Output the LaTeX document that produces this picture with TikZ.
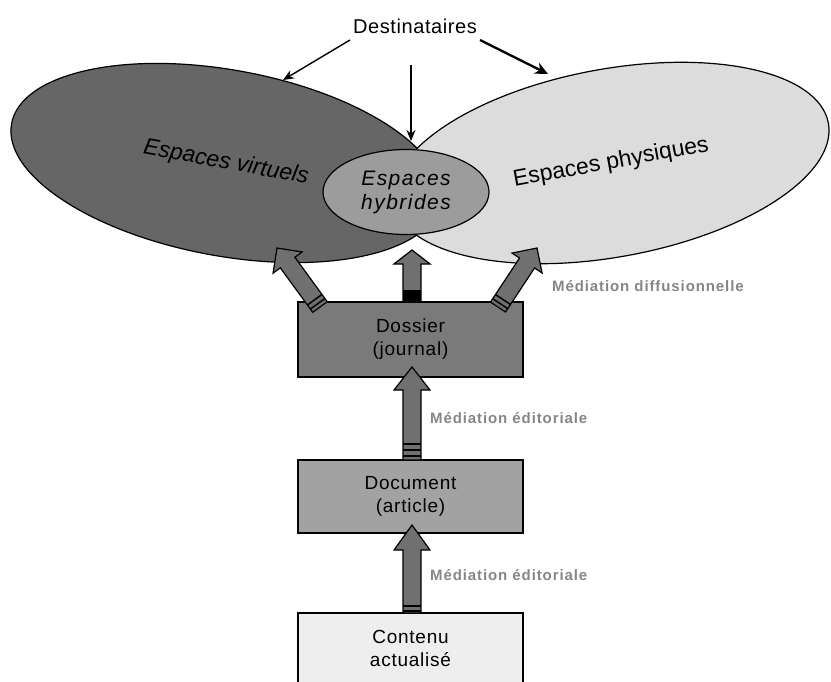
\documentclass[tikz,border=0pt]{standalone}
\usepackage{fontspec}
\setmainfont{Liberation Sans}
\newfontfamily\spacedA[LetterSpace=3]{Liberation Sans}
\newfontfamily\spacedB[LetterSpace=4]{Liberation Sans}
\newfontfamily\spacedC[LetterSpace=7]{Liberation Sans}
\newfontfamily\spacedD[LetterSpace=6]{Liberation Sans}
\usetikzlibrary{shapes.geometric,calc,arrows.meta}

\definecolor{virtgray}{HTML}{666666}
\definecolor{physgray}{HTML}{DCDCDC}
\definecolor{hybgray}{HTML}{9C9C9C}
\definecolor{dossgray}{HTML}{7A7A7A}
\definecolor{docgray}{HTML}{A2A2A2}
\definecolor{contgray}{HTML}{EEEEEE}
\definecolor{arrgray}{HTML}{707070}
\definecolor{lblgray}{HTML}{868686}

\tikzset{
  zone/.style={ellipse, draw=black, line width=1.2pt, inner sep=0pt},
  boxnode/.style={draw=black, line width=1.2pt, minimum width=225pt,
    align=center, inner sep=0pt, font={\spacedB\fontsize{19}{23}\selectfont}},
  mediation/.style={anchor=west, text=lblgray, inner sep=0pt,
    font={\spacedD\bfseries\fontsize{15}{18}\selectfont}},
  bigarrow/.style={draw=black, fill=arrgray, line width=1.2pt, line join=miter},
  pointer/.style={draw=black, line width=1.4pt, -{Stealth[length=11pt,width=9pt]}},
  heavypointer/.style={draw=black, line width=2.4pt, -{Stealth[length=13pt,width=12pt]}},
}

% wide outlined arrow from a tail point to a tip point
\newcommand{\widearrow}[3]{%
  \coordinate (wa-neck) at ($(#2)!#3!(#1)$);
  \draw[bigarrow]
    ($(#1)!9pt!90:(#2)$) -- ($(wa-neck)!9pt!90:(#2)$) --
    ($(wa-neck)!18pt!90:(#2)$) -- (#2) --
    ($(wa-neck)!18pt!-90:(#2)$) -- ($(wa-neck)!9pt!-90:(#2)$) --
    ($(#1)!9pt!-90:(#2)$) -- cycle;
}
% dark bands across an arrow shaft near its tail
\newcommand{\tailbands}[3]{%
  \foreach \bd in {#3}{%
    \coordinate (tb) at ($(#1)!\bd!(#2)$);
    \draw[line width=1.5pt] ($(tb)!9pt!90:(#2)$) -- ($(tb)!9pt!-90:(#2)$);
  }%
}

\begin{document}
\begin{tikzpicture}[x=1pt,y=-1pt]
\useasboundingbox (0,0) rectangle (831,681);
\clip (0,0) rectangle (831,681);

% the three spaces
\node[zone, fill=virtgray, minimum width=436pt, minimum height=186pt,
  rotate=-10.4, font={\itshape\fontsize{23}{27}\selectfont}]
  (virt) at (226,163) {Espaces virtuels};
\node[zone, fill=physgray, minimum width=442pt, minimum height=188pt,
  rotate=10.4, font={\fontsize{23}{27}\selectfont}]
  (phys) at (611,163) {Espaces physiques};
\node[zone, fill=hybgray, minimum width=166pt, minimum height=85pt,
  align=center, font={\spacedC\itshape\fontsize{21}{24}\selectfont}]
  (hyb) at (406,192) {Espaces\\hybrides};

% recipients
\node[inner sep=0pt, font={\spacedA\fontsize{20}{24}\selectfont}]
  (dest) at (415,26) {Destinataires};
\coordinate (destL) at (350,40);
\coordinate (destR) at (480,40);
\coordinate (destM) at (411,65);
\coordinate (toVirt) at (283,80);
\coordinate (toPhys) at (548,74);
\coordinate (toHyb) at (411,141);
\draw[pointer] (destL) -- (toVirt);
\draw[heavypointer] (destR) -- (toPhys);
\draw[pointer, line width=1.3pt] (destM) -- (toHyb);

% editorial chain
\node[boxnode, fill=dossgray, minimum height=75pt] (doss) at (410.5,339.5) {Dossier\\(journal)};
\node[boxnode, fill=docgray, minimum height=73pt] (doc) at (410.5,496.5) {Document\\(article)};
\node[boxnode, fill=contgray, minimum height=70pt] (cont) at (410.5,648) {Contenu\\actualisé};

% broadcast arrows
\coordinate (tailV) at (320,307);
\coordinate (tipV) at (277,248);
\coordinate (tailP) at (498,307);
\coordinate (tipP) at (537,248);
\coordinate (tailH) at (412,302);
\coordinate (tipH) at (412,250);
\widearrow{tailV}{tipV}{18pt}
\tailbands{tailV}{tipV}{4pt,9pt}
\widearrow{tailP}{tipP}{18pt}
\tailbands{tailP}{tipP}{4pt,9pt}
\widearrow{tailH}{tipH}{14pt}
\fill[black] ($(tailH)+(-9,0)$) rectangle ($(tailH)+(9,-12)$);

% editorial arrows
\coordinate (tailD) at (412,460);
\coordinate (tipD) at (412,367);
\coordinate (tailC) at (412,613);
\coordinate (tipC) at (412,525);
\widearrow{tailD}{tipD}{23pt}
\tailbands{tailD}{tipD}{4pt,10pt,16pt}
\widearrow{tailC}{tipC}{25pt}
\tailbands{tailC}{tipC}{2pt,7pt}

% labels
\node[mediation] (medDiff) at (552,286) {Médiation diffusionnelle};
\node[mediation] (medEd1) at (430,418) {Médiation éditoriale};
\node[mediation] (medEd2) at (430,575) {Médiation éditoriale};
\end{tikzpicture}
\end{document}
